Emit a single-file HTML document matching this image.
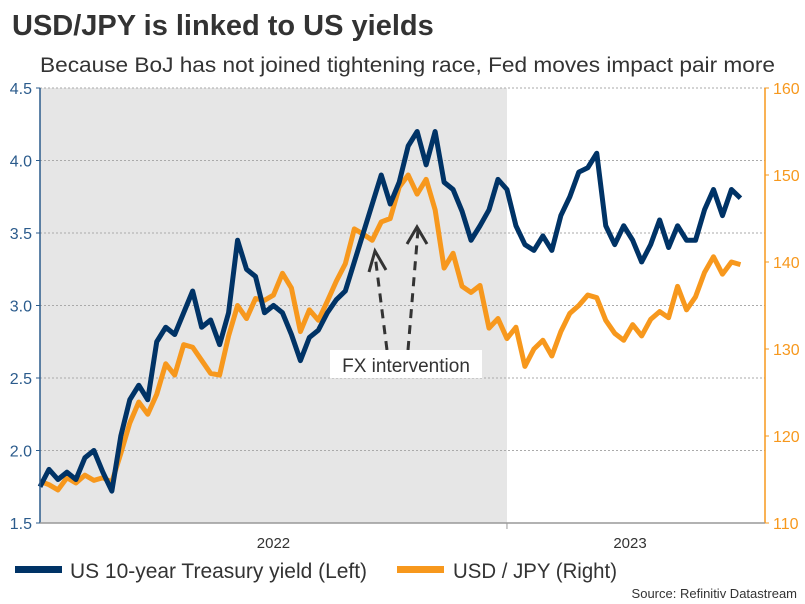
<!DOCTYPE html>
<html><head><meta charset="utf-8"><style>
body{margin:0;background:#fff;font-family:"Liberation Sans",sans-serif;}
#wrap{position:relative;width:805px;height:604px;overflow:hidden;}
</style></head><body>
<div id="wrap">
<svg id="chart" width="805" height="604" xmlns="http://www.w3.org/2000/svg">
<text x="12" y="35" font-size="29" font-weight="bold" fill="#333" font-family="Liberation Sans, sans-serif">USD/JPY is linked to US yields</text>
<text x="40" y="72" font-size="21.5" fill="#333" textLength="735" lengthAdjust="spacingAndGlyphs" font-family="Liberation Sans, sans-serif">Because BoJ has not joined tightening race, Fed moves impact pair more</text>
<rect x="40" y="88" width="467" height="435" fill="#e6e6e6"/>
<g id="grid"></g>
<g id="series"></g>
<g id="axes"></g>
<g>
<line x1="387" y1="350" x2="375" y2="255" stroke="#333" stroke-width="3" stroke-dasharray="9,7"/>
<polyline points="369,272 375,251 386,270" fill="none" stroke="#333" stroke-width="3"/>
<line x1="408" y1="350" x2="418" y2="230" stroke="#333" stroke-width="3" stroke-dasharray="9,7"/>
<polyline points="407,244 417,227 427,244" fill="none" stroke="#333" stroke-width="3"/>
<rect x="330" y="350" width="152" height="28" fill="#fff"/>
<text x="406" y="372" font-size="19" fill="#333" text-anchor="middle" font-family="Liberation Sans, sans-serif">FX intervention</text>
</g>
<g>
<rect x="15" y="566" width="47" height="7" fill="#003366"/>
<text x="70" y="578" font-size="21" fill="#333" textLength="297" lengthAdjust="spacingAndGlyphs" font-family="Liberation Sans, sans-serif">US 10-year Treasury yield (Left)</text>
<rect x="397" y="566" width="47" height="7" fill="#f7981d"/>
<text x="453" y="578" font-size="21" fill="#333" textLength="164" lengthAdjust="spacingAndGlyphs" font-family="Liberation Sans, sans-serif">USD / JPY (Right)</text>
</g>
<text x="797" y="598" font-size="13" fill="#333" text-anchor="end" font-family="Liberation Sans, sans-serif">Source: Refinitiv Datastream</text>
</svg>
</div>
<script>
const yieldValues=[1.75,1.87,1.8,1.85,1.8,1.95,2.0,1.85,1.72,2.1,2.35,2.45,2.35,2.75,2.85,2.8,2.95,3.1,2.85,2.9,2.73,2.95,3.45,3.25,3.2,2.95,3.0,2.95,2.8,2.62,2.78,2.83,2.95,3.04,3.1,3.3,3.5,3.7,3.9,3.7,3.85,4.1,4.2,3.97,4.2,3.85,3.8,3.65,3.45,3.55,3.66,3.87,3.8,3.55,3.42,3.38,3.48,3.38,3.62,3.75,3.92,3.95,4.05,3.55,3.42,3.55,3.45,3.3,3.42,3.59,3.4,3.55,3.45,3.45,3.66,3.8,3.62,3.8,3.74];
const usdjpyValues=[114.8,114.4,113.8,115.2,114.6,115.5,114.9,115.2,114.7,118.0,121.5,123.9,122.5,124.8,128.3,127.0,130.5,130.2,128.7,127.2,127.0,131.5,135.0,133.5,135.8,135.6,136.2,138.7,137.0,132.0,134.5,133.3,135.5,137.8,139.8,143.8,143.2,142.5,144.6,145.0,148.6,150.0,147.8,149.5,146.0,139.3,141.0,137.2,136.5,137.3,132.4,133.5,131.2,132.5,128.0,130.0,131.0,129.2,132.0,134.1,135.0,136.2,135.9,133.3,131.8,131.0,132.8,131.5,133.4,134.3,133.6,137.2,134.5,136.0,138.8,140.6,138.6,140.0,139.7];
const leftTicks=[1.5,2.0,2.5,3.0,3.5,4.0,4.5];
const rightTicks=[110,120,130,140,150,160];
const yearLabels=["2022","2023"];
const yearStartWeeks=[0,52];

const NS="http://www.w3.org/2000/svg";
const X0=40,X1=765,YT=88,YB=523,WK=8.98;
const xs=w=>X0+w*WK;
const yl=v=>YB-(v-1.5)/3*(YB-YT);
const yr=v=>YB-(v-110)/50*(YB-YT);
function mk(tag,attrs,parent){const e=document.createElementNS(NS,tag);for(const k in attrs)e.setAttribute(k,attrs[k]);parent.appendChild(e);return e;}
const grid=document.getElementById('grid'),axes=document.getElementById('axes'),series=document.getElementById('series');
leftTicks.forEach(t=>{
 if(t>1.5){const g=mk('line',{x1:X0,x2:X1,y1:yl(t),y2:yl(t),stroke:'#aaa','stroke-width':1,'stroke-dasharray':'2,2'},grid);
 
 }
 const tk=mk('text',{x:X0-8,y:yl(t)+6,'font-size':16,fill:'#2b5b8c','text-anchor':'end','font-family':'Liberation Sans, sans-serif'},axes);
 tk.textContent=t.toFixed(1);
 
 
 mk('line',{x1:X0-4,x2:X0,y1:yl(t),y2:yl(t),stroke:'#2b5b8c'},axes);
});
rightTicks.forEach(t=>{
 const tk=mk('text',{x:X1+8,y:yr(t)+6,'font-size':16,fill:'#f7981d','font-family':'Liberation Sans, sans-serif'},axes);
 tk.textContent=t;
 
 
 mk('line',{x1:X1,x2:X1+4,y1:yr(t),y2:yr(t),stroke:'#f7981d'},axes);
});
const la=mk('line',{x1:X0,x2:X0,y1:YT,y2:YB,stroke:'#2b5b8c','stroke-width':1.5},axes);


const ra=mk('line',{x1:X1,x2:X1,y1:YT,y2:YB,stroke:'#f7981d','stroke-width':1.5},axes);


const xa=mk('line',{x1:X0,x2:X1,y1:YB,y2:YB,stroke:'#999','stroke-width':1.5},axes);


mk('line',{x1:xs(52),x2:xs(52),y1:YB,y2:YB+6,stroke:'#999'},axes);
yearLabels.forEach((y,i)=>{
 const cx=i===0?(xs(yearStartWeeks[0])+xs(yearStartWeeks[1]))/2:630;
 const t=mk('text',{x:cx,y:548,'font-size':15,fill:'#333','text-anchor':'middle','font-family':'Liberation Sans, sans-serif'},axes);
 t.textContent=y;
 
 
});
const jp=mk('polyline',{points:usdjpyValues.map((v,i)=>xs(i)+','+yr(v)).join(' '),fill:'none',stroke:'#f7981d','stroke-width':5,'stroke-linejoin':'round'},series);


const yl1=mk('polyline',{points:yieldValues.map((v,i)=>xs(i)+','+yl(v)).join(' '),fill:'none',stroke:'#003366','stroke-width':5,'stroke-linejoin':'round'},series);


</script>
</body></html>
